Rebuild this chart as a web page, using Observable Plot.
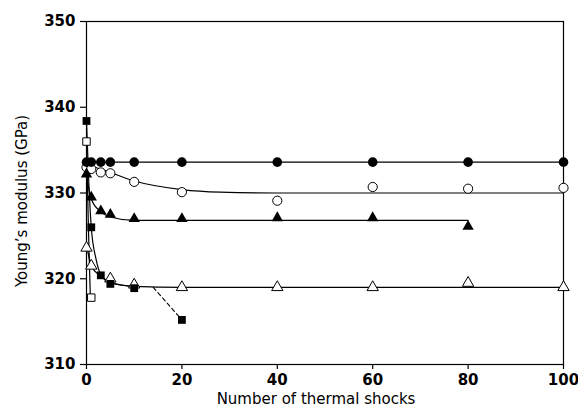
<!DOCTYPE html>
<html>
<head>
<meta charset="utf-8">
<script src="https://cdn.jsdelivr.net/npm/d3@7"></script>
<script src="https://cdn.jsdelivr.net/npm/@observablehq/plot@0.6"></script>
<style>
  html, body { margin: 0; padding: 0; background: #fff; }
  #chart svg { display: block; }
</style>
</head>
<body>
<div id="chart"></div>
<script>
// ---- data ----
const xTicks = [0, 20, 40, 60, 80, 100];
const yTicks = [310, 320, 330, 340, 350];

// filled circles
const fcX = [0, 1, 3, 5, 10, 20, 40, 60, 80, 100];
const fcY = [333.6, 333.6, 333.6, 333.6, 333.6, 333.6, 333.6, 333.6, 333.6, 333.6];
// open circles
const ocX = [0, 1, 3, 5, 10, 20, 40, 60, 80, 100];
const ocY = [333.0, 332.8, 332.4, 332.3, 331.3, 330.1, 329.1, 330.7, 330.5, 330.6];
// filled triangles
const ftX = [0, 1, 3, 5, 10, 20, 40, 60, 80];
const ftY = [332.2, 329.5, 327.9, 327.5, 327.0, 327.0, 327.1, 327.1, 326.1];
// open triangles
const otX = [0, 1, 5, 10, 20, 40, 60, 80, 100];
const otY = [323.6, 321.5, 320.0, 319.3, 319.0, 319.0, 319.0, 319.5, 319.0];
// filled squares
const fsX = [0, 1, 3, 5, 10, 20];
const fsY = [338.4, 326.0, 320.4, 319.4, 318.9, 315.2];
// open squares
const osX = [0, 1];
const osY = [336.0, 317.8];

// fitted curves as drawn in the reference
const fitFcX = [0, 100];
const fitFcY = [333.6, 333.6];
const fitOcX = [0, 3, 10, 20, 28, 40, 100];
const fitOcY = [333.3, 332.8, 331.4, 330.4, 330.1, 330.0, 330.0];
const fitFtX = [0, 1, 3, 5, 10, 80];
const fitFtY = [332.0, 329.3, 327.8, 327.2, 326.8, 326.8];
const fitOtX = [0, 1, 3, 5, 10, 20, 100];
const fitOtY = [324.0, 321.5, 320.3, 319.6, 319.1, 319.0, 319.0];
const fitFsX = [0, 0.5, 1, 2, 3, 5, 10];
const fitFsY = [338.4, 331.0, 326.0, 322.3, 320.5, 319.5, 319.1];
const fitOsX = [0, 0.4, 0.8];
const fitOsY = [336.0, 326.0, 318.0];
const dashX = [14, 20];
const dashY = [319.0, 315.2];

const xLabel = "Number of thermal shocks";
const yLabel = "Young\u2019s modulus (GPa)";

// ---- build tables ----
const zip = (xs, ys) => xs.map((x, i) => ({x, y: ys[i]}));
const fc = zip(fcX, fcY), oc = zip(ocX, ocY), ft = zip(ftX, ftY),
      ot = zip(otX, otY), fs = zip(fsX, fsY), os = zip(osX, osY);
const fits = [
  zip(fitFcX, fitFcY), zip(fitOcX, fitOcY), zip(fitFtX, fitFtY),
  zip(fitOtX, fitOtY), zip(fitFsX, fitFsY), zip(fitOsX, fitOsY)
];

const font = "DejaVu Sans, sans-serif";

const chart = Plot.plot({
  width: 578,
  height: 414,
  marginLeft: 86,
  marginRight: 15,
  marginTop: 21,
  marginBottom: 50,
  style: {fontFamily: font, background: "#fff", color: "#000"},
  x: {domain: [0, 100], ticks: xTicks, label: null},
  y: {domain: [310, 350], ticks: yTicks, label: null},
  marks: [
    Plot.frame({stroke: "#000", strokeWidth: 1.2}),
    Plot.axisX({ticks: xTicks, tickSize: 5, tickPadding: 5, fontSize: 15, fontWeight: "bold", label: null, strokeWidth: 1.2}),
    Plot.axisY({ticks: yTicks, tickSize: 6, tickPadding: 5, fontSize: 15, fontWeight: "bold", label: null, strokeWidth: 1.2}),
    ...fits.map(f => Plot.line(f, {x: "x", y: "y", curve: "monotone-x", stroke: "#000", strokeWidth: 1.2})),
    Plot.line(zip(dashX, dashY), {x: "x", y: "y", stroke: "#000", strokeWidth: 1.1, strokeDasharray: "4,3"}),
    Plot.dot(oc, {x: "x", y: "y", symbol: "circle", r: 4.6, fill: "#fff", stroke: "#000", strokeWidth: 1}),
    Plot.dot(ot, {x: "x", y: "y", symbol: "triangle", r: 4.2, fill: "#fff", stroke: "#000", strokeWidth: 1}),
    Plot.dot(os, {x: "x", y: "y", symbol: "square", r: 4.2, fill: "#fff", stroke: "#000", strokeWidth: 1}),
    Plot.dot(fc, {x: "x", y: "y", symbol: "circle", r: 4.8, fill: "#000", stroke: "none"}),
    Plot.dot(ft, {x: "x", y: "y", symbol: "triangle", r: 4.2, fill: "#000", stroke: "none"}),
    Plot.dot(fs, {x: "x", y: "y", symbol: "square", r: 4.4, fill: "#000", stroke: "none"}),
    Plot.text([xLabel], {frameAnchor: "bottom", text: d => d, dy: 39, dx: -9, fontSize: 15, fontFamily: font, lineAnchor: "bottom"}),
    Plot.text([yLabel], {frameAnchor: "left", text: d => d, rotate: -90, textAnchor: "middle", dx: -64, dy: 8, fontSize: 15, fontFamily: font, lineAnchor: "middle"})
  ]
});
document.getElementById("chart").appendChild(chart);
</script>
</body>
</html>
